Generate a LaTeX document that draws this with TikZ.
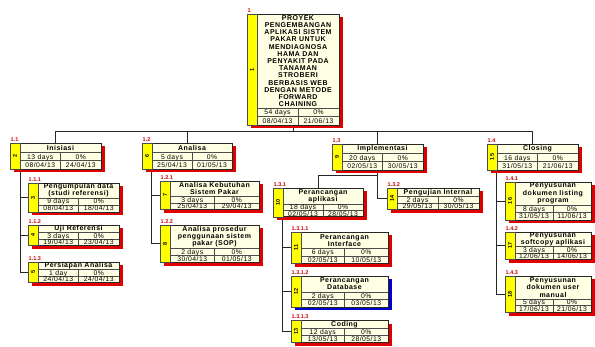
\documentclass[tikz,border=0pt]{standalone}
\usepackage{fontspec}
\setmainfont{Liberation Sans}
\newfontfamily\wbsfont[LetterSpace=7]{Liberation Sans}
\usetikzlibrary{calc}
\definecolor{cream}{HTML}{FFFFE3}
\definecolor{stripyellow}{HTML}{FFFF00}
\definecolor{shred}{HTML}{E00000}
\definecolor{shblue}{HTML}{0000C8}
\definecolor{lblred}{HTML}{CC0000}
\pgfdeclarelayer{bg}
\pgfsetlayers{bg,main}
\tikzset{
  conn/.style={draw=black!85, line width=0.6pt},
  wbsbox/.style={draw=black!85, line width=0.7pt, fill=cream, inner sep=0pt, outer sep=0pt},
  wbsline/.style={draw=black!70, line width=0.5pt},
  ttl/.style={font=\wbsfont\bfseries\fontsize{7}{7.2}\selectfont, align=center, inner sep=0pt},
  cell/.style={font=\wbsfont\fontsize{6.8}{7}\selectfont, inner sep=0pt, text height=4.9pt, text depth=0pt},
  lbl/.style={font=\bfseries\fontsize{5.5}{5.5}\selectfont, text=lblred, inner sep=0pt, anchor=base west},
  idtxt/.style={font=\bfseries\fontsize{5.5}{5.5}\selectfont, inner sep=0pt, rotate=90},
}
% #1 name #2 x #3 y #4 w #5 title height #6 row height #7 id #8 label #9 shadow colour
\newcommand\wbs[9]{%
  \xdef\wbsX{#2}\xdef\wbsY{#3}\xdef\wbsW{#4}\xdef\wbsTH{#5}\xdef\wbsRH{#6}\xdef\wbsN{#1}%
  \pgfmathsetmacro\wbsH{#5+2*#6}%
  \fill[#9] ({#2+3.5},{#3+3.5}) rectangle ++(#4,\wbsH);
  \node[wbsbox, minimum width=#4pt, minimum height={\wbsH pt}, anchor=north west] (#1) at (#2,#3) {};
  \draw[wbsline, fill=stripyellow] (#1.north west) rectangle ($(#1.south west)+(10,0)$);
  \draw[wbsline] ($(#1.north west)+(10,#5)$) -- ($(#1.north east)+(0,#5)$);
  \draw[wbsline] ($(#1.north west)+(10,{#5+#6})$) -- ($(#1.north east)+(0,{#5+#6})$);
  \draw[wbsline] ($(#1.north west)+({10+(#4-10)/2},#5)$) -- ($(#1.south west)+({10+(#4-10)/2},0)$);
  \node[idtxt] (#1-id) at ($(#1.west)+(5,0)$) {#7};
  \node[lbl] (#1-lb) at ($(#1.north west)+(0.5,-1.8)$) {#8};
}
% #1 title #2 days #3 pct #4 start #5 end
\newcommand\wbstext[5]{%
  \node[ttl] (\wbsN-t) at ($(\wbsN.north west)+({10+(\wbsW-10)/2},{\wbsTH/2})$) {#1};
  \node[cell] (\wbsN-d) at ($(\wbsN.north west)+({10+(\wbsW-10)/4},{\wbsTH+\wbsRH/2})$) {#2};
  \node[cell] (\wbsN-p) at ($(\wbsN.north west)+({10+3*(\wbsW-10)/4},{\wbsTH+\wbsRH/2})$) {#3};
  \node[cell] (\wbsN-s) at ($(\wbsN.north west)+({10+(\wbsW-10)/4},{\wbsTH+1.5*\wbsRH})$) {#4};
  \node[cell] (\wbsN-e) at ($(\wbsN.north west)+({10+3*(\wbsW-10)/4},{\wbsTH+1.5*\wbsRH})$) {#5};
}
\begin{document}
\begin{tikzpicture}[x=1pt,y=-1pt]
\useasboundingbox (0,0) rectangle (595,347);

\wbs{t1}{247}{14}{92}{94}{8.5}{1}{1}{shred}
\wbstext{PROYEK\\PENGEMBANGAN\\APLIKASI SISTEM\\PAKAR UNTUK\\MENDIAGNOSA\\HAMA DAN\\PENYAKIT PADA\\TANAMAN\\STROBERI\\BERBASIS WEB\\DENGAN METODE\\FORWARD\\CHAINING}{54 days}{0\%}{08/04/13}{21/06/13}

\wbs{t11}{10}{143}{91}{9.5}{8.2}{2}{1.1}{shred}
\wbstext{Inisiasi}{13 days}{0\%}{08/04/13}{24/04/13}
\wbs{t12}{142}{143}{90}{9.5}{8.2}{6}{1.2}{shred}
\wbstext{Analisa}{5 days}{0\%}{25/04/13}{01/05/13}
\wbs{t13}{332}{144}{91}{9.5}{8.2}{9}{1.3}{shred}
\wbstext{Implementasi}{20 days}{0\%}{02/05/13}{30/05/13}
\wbs{t14}{487}{144}{91}{9.5}{8.2}{15}{1.4}{shred}
\wbstext{Closing}{16 days}{0\%}{31/05/13}{21/06/13}

\wbs{t111}{28}{183}{91}{15}{7}{3}{1.1.1}{shred}
\wbstext{Pengumpulan data\\(studi referensi)}{9 days}{0\%}{08/04/13}{18/04/13}
\wbs{t112}{28}{225}{91}{7.5}{6.5}{4}{1.1.2}{shred}
\wbstext{Uji Referensi}{3 days}{0\%}{19/04/13}{23/04/13}
\wbs{t113}{28}{262}{91}{7.5}{6.5}{5}{1.1.3}{shred}
\wbstext{Persiapan Analisa}{1 day}{0\%}{24/04/13}{24/04/13}

\wbs{t121}{160}{181}{99}{15.5}{6.5}{7}{1.2.1}{shred}
\wbstext{Analisa Kebutuhan\\Sistem Pakar}{3 days}{0\%}{25/04/13}{29/04/13}
\wbs{t122}{160}{225}{99}{23.5}{6.8}{8}{1.2.2}{shred}
\wbstext{Analisa prosedur\\penggunaan sistem\\pakar (SOP)}{2 days}{0\%}{30/04/13}{01/05/13}

\wbs{t131}{273}{188}{90}{16}{6.4}{10}{1.3.1}{shred}
\wbstext{Perancangan\\aplikasi}{18 days}{0\%}{02/05/13}{28/05/13}
\wbs{t132}{387}{188}{92}{8.5}{6.4}{14}{1.3.2}{shred}
\wbstext{Pengujian Internal}{2 days}{0\%}{29/05/13}{30/05/13}

\wbs{t1311}{291}{232}{97}{16.5}{7.5}{11}{1.3.1.1}{shred}
\wbstext{Perancangan\\Interface}{6 days}{0\%}{02/05/13}{10/05/13}
\wbs{t1312}{291}{276}{97}{16}{7.5}{12}{1.3.1.2}{shblue}
\wbstext{Perancangan\\Database}{2 days}{0\%}{02/05/13}{03/05/13}
\wbs{t1313}{291}{320.5}{97}{7.8}{7}{13}{1.3.1.3}{shred}
\wbstext{Coding}{12 days}{0\%}{13/05/13}{28/05/13}

\wbs{t141}{505}{182}{86}{23}{7.5}{16}{1.4.1}{shred}
\wbstext{Penyusunan\\dokumen listing\\program}{8 days}{0\%}{31/05/13}{11/06/13}
\wbs{t142}{505}{232}{86}{14.5}{6.3}{17}{1.4.2}{shred}
\wbstext{Penyusunan\\softcopy aplikasi}{3 days}{0\%}{12/06/13}{14/06/13}
\wbs{t143}{505}{276}{86}{23}{6.6}{18}{1.4.3}{shred}
\wbstext{Penyusunan\\dokumen user\\manual}{5 days}{0\%}{17/06/13}{21/06/13}

\begin{pgfonlayer}{bg}
  \fill[white] (0,0) rectangle (595,347);
  \draw[conn] (t1.south) -- ++(0,6) -| (t11.north);
  \draw[conn] (t1.south) -- ++(0,6) -| (t12.north);
  \draw[conn] (t1.south) -- ++(0,6) -| (t13.north);
  \draw[conn] (t1.south) -- ++(0,6) -| (t14.north);
  \draw[conn] ($(t11.south west)+(10.7,0)$) |- (t111.west);
  \draw[conn] ($(t11.south west)+(10.7,0)$) |- (t112.west);
  \draw[conn] ($(t11.south west)+(10.7,0)$) |- (t113.west);
  \draw[conn] ($(t12.south west)+(9.7,0)$) |- (t121.west);
  \draw[conn] ($(t12.south west)+(9.7,0)$) |- (t122.west);
  \draw[conn] (t13.south) -- ++(0,5) -| (t131.north);
  \draw[conn] (t13.south) |- (t132.west);
  \draw[conn] ($(t131.south west)+(9.7,0)$) |- (t1311.west);
  \draw[conn] ($(t131.south west)+(9.7,0)$) |- (t1312.west);
  \draw[conn] ($(t131.south west)+(9.7,0)$) |- (t1313.west);
  \draw[conn] ($(t14.south west)+(9.5,0)$) |- (t141.west);
  \draw[conn] ($(t14.south west)+(9.5,0)$) |- (t142.west);
  \draw[conn] ($(t14.south west)+(9.5,0)$) |- (t143.west);
\end{pgfonlayer}
\end{tikzpicture}
\end{document}
